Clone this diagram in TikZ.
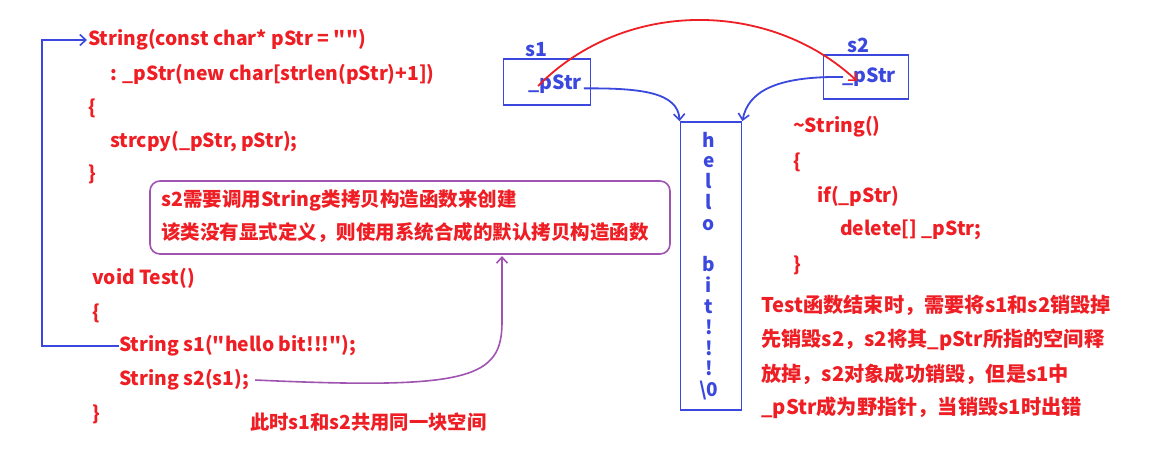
\documentclass[tikz,border=0pt]{standalone}
\usepackage{fontspec}
\setmainfont{Noto Sans CJK SC}[Ligatures=TeXOff]
\usetikzlibrary{arrows.meta}
\definecolor{codered}{RGB}{238,30,36}
\definecolor{ptrblue}{RGB}{58,72,222}
\definecolor{notepurple}{RGB}{160,84,178}
\tikzset{
  code/.style={anchor=west,inner sep=0pt,text=codered,font=\fontsize{19.3}{19.3}\selectfont\bfseries},
  note/.style={anchor=west,inner sep=0pt,text=codered,font=\fontsize{19.5}{19.5}\selectfont\bfseries},
  endnote/.style={anchor=west,inner sep=0pt,text=codered,font=\fontsize{20.2}{20.2}\selectfont\bfseries},
  bluetext/.style={inner sep=0pt,text=ptrblue,font=\fontsize{19.5}{19.5}\selectfont\bfseries},
  letters/.style={inner sep=0pt,text=ptrblue,align=center,font=\fontsize{19}{20.8}\selectfont\bfseries},
  objbox/.style={draw=ptrblue,line width=1.8pt,inner sep=0pt},
  blueline/.style={draw=ptrblue,line width=1.8pt},
  tip/.style={-{Straight Barb[length=6pt,width=11pt,line width=1.6pt]}},
}
\begin{document}
\begin{tikzpicture}[x=1pt,y=-1pt]
\useasboundingbox[fill=white] (0,0) rectangle (1152,459);
% left code
\node[code] (ctor) at (88,40) {String(const char* pStr = "")};
\node[code] (init) at (110,74) {: \_pStr(new char[strlen(pStr)+1])};
\node[code] (lb1) at (88,108) {\{};
\node[code] (cpy) at (110,142) {strcpy(\_pStr, pStr);};
\node[code] (rb1) at (88,174) {\}};
\node[code] (test) at (92,278) {void Test()};
\node[code] (lb2) at (92,313) {\{};
\node[code] (s1call) at (119,346) {String s1("hello bit!!!");};
\node[code] (s2call) at (119,380) {String s2(s1);};
\node[code] (rb2) at (92,414) {\}};
\node[code] (share) at (250,422) {此时s1和s2共用同一块空间};
% purple note
\draw[notepurple,line width=1.6pt,rounded corners=10pt] (150,181) rectangle (670,254);
\node[note] (n1) at (161,200) {s2需要调用String类拷贝构造函数来创建};
\node[note] (n2) at (161,233) {该类没有显式定义，则使用系统合成的默认拷贝构造函数};
\coordinate (ntip) at (502,256);
% blue constructor call line
\coordinate (corner) at (42,0);
\draw[blueline,tip] (s1call.west) -- (s1call.west -| corner) |- ([xshift=-1pt]ctor.west);
% purple arrow
\draw[notepurple,line width=1.6pt,tip] ([xshift=6pt]s2call.east) .. controls (470,390) and (502,378) .. (502,322) -- (ntip);
% objects
\node[objbox,minimum width=87pt,minimum height=46pt] (s1box) at (547,82) {};
\node[bluetext,anchor=south west] (s1lab) at (525,57) {s1};
\node[bluetext] (s1p) at (555,84) {\_pStr};
\node[objbox,minimum width=85pt,minimum height=44pt] (s2box) at (866,77) {};
\node[bluetext,anchor=south west] (s2lab) at (847,53) {s2};
\node[bluetext] (s2p) at (869,77) {\_pStr};
% heap block
\node[objbox,minimum width=61pt,minimum height=288pt] (heap) at (711,266) {};
\node[letters] (hello) at (709,266) {h\\e\\l\\l\\o\\[20.8pt]b\\i\\t\\!\\!\\!\\\textbackslash0};
% pointers
\draw[blueline,tip] ([xshift=2pt,yshift=1pt]s1p.base east) .. controls (640,88) and (678,92) .. (heap.north west);
\draw[blueline,tip] ([xshift=-26pt]s2p.center) .. controls (775,76) and (748,92) .. (heap.north east);
\draw[codered,line width=1.8pt,tip] ([xshift=10pt,yshift=-2pt]s1p.west) .. controls (625,-2) and (770,0) .. ([xshift=-12pt,yshift=-4pt]s2p.center);
% destructor
\node[code] (dtor) at (793,127) {\textasciitilde String()};
\node[code] (lb3) at (793,162) {\{};
\node[code] (ifp) at (817,196) {if(\_pStr)};
\node[code] (del) at (840,230) {delete[] \_pStr;};
\node[code] (rb3) at (793,265) {\}};
\node[endnote] (e1) at (761,305) {Test函数结束时，需要将s1和s2销毁掉};
\node[endnote] (e2) at (761,340) {先销毁s2，s2将其\_pStr所指的空间释};
\node[endnote] (e3) at (761,374) {放掉，s2对象成功销毁，但是s1中};
\node[endnote] (e4) at (761,408) {\_pStr成为野指针，当销毁s1时出错};
\end{tikzpicture}
\end{document}
